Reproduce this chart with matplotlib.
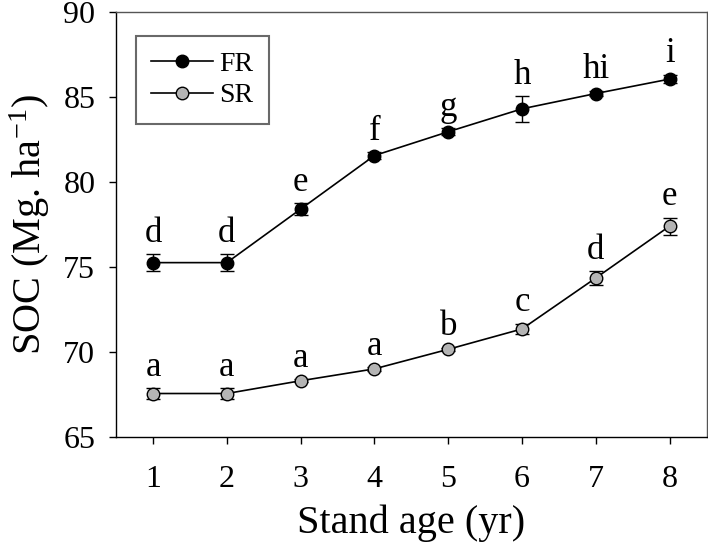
import matplotlib
matplotlib.use('Agg')
import matplotlib.pyplot as plt
from matplotlib.lines import Line2D

plt.rcParams['font.family'] = ['Liberation Serif', 'DejaVu Serif']
plt.rcParams['mathtext.fontset'] = 'custom'
plt.rcParams['mathtext.rm'] = 'Liberation Serif'
plt.rcParams['mathtext.default'] = 'regular'

# stand age (yr)
age = [1, 2, 3, 4, 5, 6, 7, 8]

# SOC, Mg ha-1
fr_mean = [75.25, 75.25, 78.4, 81.55, 82.95, 84.3, 85.2, 86.05]
fr_err = [0.5, 0.5, 0.35, 0.2, 0.2, 0.75, 0.15, 0.25]
fr_letters = ['d', 'd', 'e', 'f', 'g', 'h', 'hi', 'i']

sr_mean = [67.55, 67.55, 68.3, 69.0, 70.15, 71.35, 74.35, 77.4]
sr_err = [0.3, 0.3, 0.1, 0.1, 0.1, 0.3, 0.4, 0.5]
sr_letters = ['a', 'a', 'a', 'a', 'b', 'c', 'd', 'e']

sr_grey = '#b4b4b4'

fig = plt.figure(figsize=(7.08, 5.42), dpi=100)
ax = fig.add_axes([0.164, 0.194, 0.834, 0.784])

ax.errorbar(age, fr_mean, yerr=fr_err, color='black', lw=1.2, marker='o',
            ms=9, mfc='black', mec='black', ecolor='black', elinewidth=1,
            capsize=5, capthick=1, zorder=3)
ax.errorbar(age, sr_mean, yerr=sr_err, color='black', lw=1.2, marker='o',
            ms=9, mfc=sr_grey, mec='black', mew=1, ecolor='black',
            elinewidth=1, capsize=5, capthick=1, zorder=3)

for x, y, e, t in zip(age, fr_mean, fr_err, fr_letters):
    ax.annotate(t, (x, y + e), xytext=(0, 9), textcoords='offset points',
                ha='center', va='baseline', fontsize=25)
for x, y, e, t in zip(age, sr_mean, sr_err, sr_letters):
    ax.annotate(t, (x, y + e), xytext=(0, 9), textcoords='offset points',
                ha='center', va='baseline', fontsize=25)

ax.set_xlim(0.5, 8.5)
ax.set_ylim(65, 90)
ax.set_xticks(age)
ax.set_yticks([65, 70, 75, 80, 85, 90])
ax.tick_params(direction='out', length=5, width=1, labelsize=23,
               top=False, right=False)
ax.tick_params(axis='x', pad=15)
ax.tick_params(axis='y', pad=10)
for s in ax.spines.values():
    s.set_linewidth(1)
ax.spines['top'].set_color('#555555')
ax.spines['right'].set_color('#555555')

ax.set_xlabel('Stand age (yr)', fontsize=29, labelpad=8)
ax.set_ylabel('SOC (Mg. ha$^{-1}$)', fontsize=29, labelpad=8)

handles = [
    Line2D([], [], color='black', lw=1.2, marker='o', ms=9, mfc='black',
           mec='black'),
    Line2D([], [], color='black', lw=1.2, marker='o', ms=9, mfc=sr_grey,
           mec='black'),
]
leg = ax.legend(handles, ['FR', 'SR'], loc='upper left', fontsize=20,
                frameon=True, fancybox=False, edgecolor='#444444',
                handlelength=2.2, handletextpad=0.25, borderpad=0.55,
                labelspacing=0.22, borderaxespad=0,
                bbox_to_anchor=(0.034, 0.943))
leg.get_frame().set_linewidth(1.5)

fig.savefig('out.png', dpi=100)
